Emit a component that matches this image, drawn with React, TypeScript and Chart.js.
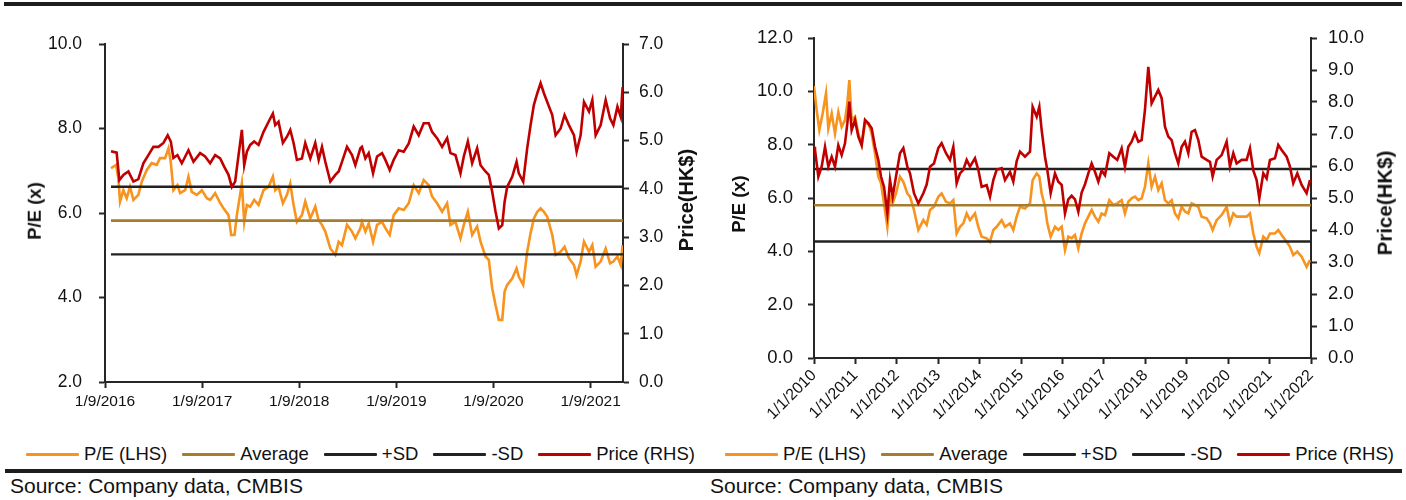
import React, { useEffect, useRef } from 'react';
import { Chart, registerables } from 'chart.js';

Chart.register(...registerables);

// ---------------- DATA ----------------
const seriesNames = ['P/E (LHS)', 'Average', '+SD', '-SD', 'Price (RHS)'];
const sourceText = 'Source: Company data, CMBIS';
const leftTitle = 'P/E (x)';
const rightTitle = 'Price(HK$)';

// Chart 1: x = months since 1 Sep 2016
const xTicks1 = [0, 12, 24, 36, 48, 60];
const xTickLabels1 = ['1/9/2016', '1/9/2017', '1/9/2018', '1/9/2019', '1/9/2020', '1/9/2021'];
const leftTicks1 = [2, 4, 6, 8, 10];
const rightTicks1 = [0, 1, 2, 3, 4, 5, 6, 7];

const peMonths1 = [
  0.74, 1.36, 1.65, 1.86, 2.27, 2.68, 3.09, 3.51, 4.12, 4.54, 5.16, 5.77, 6.39, 6.8, 7.42, 7.84, 8.12, 8.45, 8.95, 9.28,
  9.9, 10.31, 10.72, 11.34, 11.96, 12.58, 12.99, 13.61, 14.14, 14.64, 15.26, 15.59, 16.0, 16.29, 16.91, 17.2, 17.53, 17.94, 18.43, 18.97,
  19.59, 20.21, 20.74, 21.03, 21.44, 21.98, 22.48, 22.89, 23.3, 23.71, 24.33, 24.74, 25.36, 25.98, 26.39, 26.81, 27.22, 27.84, 28.46, 28.87,
  29.28, 29.9, 30.52, 30.93, 31.55,
  31.75, 32.17, 32.58, 33.12, 33.61, 34.23, 34.64, 35.18, 35.67, 36.29, 36.91, 37.53, 38.14, 38.76, 39.38, 40.0, 40.41, 41.03, 41.65, 42.27,
  42.68, 43.3, 43.92, 44.33, 44.83, 45.36, 45.98, 46.4, 47.01, 47.42, 47.84, 48.25, 48.66, 49.08, 49.37, 49.69, 50.31, 50.85, 51.13, 51.67,
  52.16, 52.58, 52.99, 53.41, 53.82, 54.23, 54.64, 55.26, 55.67, 56.29, 56.78, 57.32, 57.94, 58.27, 58.76, 59.18, 59.8, 60.21, 60.62, 61.24,
  61.86, 62.4, 62.81, 63.31, 63.72, 63.95,
];
const pe1 = [
  7.06, 7.14, 6.82, 6.27, 6.54, 6.35, 6.62, 6.31, 6.43, 6.74, 7.02, 7.18, 7.14, 7.3, 7.3, 7.53, 7.22, 6.54, 6.66, 6.47,
  6.54, 6.86, 6.5, 6.43, 6.54, 6.35, 6.31, 6.47, 6.27, 6.11, 5.95, 5.48, 5.48, 5.95, 6.7, 5.79, 6.19, 6.15, 6.31, 6.19,
  6.54, 6.62, 6.86, 6.54, 6.62, 6.23, 6.43, 6.7, 6.19, 5.79, 5.95, 6.27, 5.87, 6.15, 5.83, 5.72, 5.56, 5.16, 5.01, 5.32,
  5.24, 5.72, 5.56, 5.4, 5.64,
  5.79, 5.56, 5.75, 5.32, 5.72, 5.79, 5.64, 5.48, 5.95, 6.11, 6.07, 6.23, 6.66, 6.47, 6.78, 6.66, 6.39, 6.23, 6.03, 6.23,
  5.72, 5.79, 5.4, 5.72, 6.03, 5.48, 5.68, 5.32, 4.97, 4.89, 4.22, 3.82, 3.47, 3.47, 4.14, 4.3, 4.45, 4.69, 4.49, 4.3,
  5.08, 5.52, 5.87, 6.03, 6.11, 6.03, 5.91, 5.48, 5.01, 5.08, 5.2, 4.93, 4.77, 4.53, 4.85, 5.32, 5.08, 5.24, 4.73, 4.85,
  5.16, 4.81, 4.85, 4.97, 4.77, 5.24,
];
const priceMonths1 = [
  0.74, 1.44, 1.77, 2.27, 2.89, 3.51, 4.12, 4.74, 5.36, 5.98, 6.6, 7.22, 7.75, 8.13, 8.45, 8.95, 9.49, 10.31, 10.93, 11.75,
  12.37, 12.99, 13.61, 14.23, 14.72, 15.26, 15.67, 16.08, 16.5, 16.91, 17.2, 17.53, 17.94, 18.43, 18.97, 19.59, 20.21, 20.74, 21.03, 21.44,
  21.98, 22.48, 22.89, 23.3, 23.71, 24.33, 24.74, 25.36, 25.98, 26.4, 26.81, 27.22, 27.84, 28.46, 28.87, 29.28, 29.9, 30.52, 30.93, 31.55,
  31.75, 32.17, 32.58, 33.12, 33.61, 34.23, 34.64, 35.18, 35.67, 36.29, 36.91, 37.53, 38.14, 38.76, 39.38, 40.0, 40.41, 41.03, 41.65, 42.27,
  42.68, 43.3, 43.92, 44.33, 44.83, 45.36, 45.98, 46.4, 47.01, 47.42, 47.84, 48.25, 48.66, 49.08, 49.37, 49.69, 50.31, 50.85, 51.13, 51.67,
  52.16, 52.58, 52.99, 53.41, 53.82, 54.23, 54.64, 55.26, 55.67, 56.29, 56.78, 57.32, 57.94, 58.27, 58.76, 59.18, 59.8, 60.21, 60.62, 61.24,
  61.86, 62.4, 62.81, 63.31, 63.72, 63.95,
];
const price1 = [
  4.78, 4.75, 4.18, 4.29, 4.36, 4.15, 4.2, 4.53, 4.7, 4.87, 4.87, 4.95, 5.11, 4.98, 4.64, 4.7, 4.53, 4.8, 4.56, 4.74,
  4.67, 4.53, 4.7, 4.63, 4.46, 4.29, 4.04, 4.15, 4.7, 5.22, 4.49, 4.77, 4.91, 4.98, 4.91, 5.18, 5.39, 5.56, 5.32, 5.39,
  4.95, 5.08, 5.22, 4.95, 4.6, 4.63, 4.95, 4.63, 4.95, 4.6, 4.87, 4.56, 4.15, 4.29, 4.36, 4.56, 4.87, 4.7, 4.49, 4.84,
  4.87, 4.63, 4.74, 4.32, 4.67, 4.74, 4.6, 4.39, 4.6, 4.8, 4.77, 4.94, 5.29, 5.11, 5.36, 5.36, 5.18, 5.05, 4.87, 5.05,
  4.74, 4.7, 4.32, 4.67, 4.98, 4.53, 4.84, 4.49, 4.36, 4.29, 3.94, 3.53, 3.18, 3.25, 3.73, 4.04, 4.25, 4.56, 4.32, 4.15,
  4.84, 5.32, 5.74, 5.98, 6.19, 5.98, 5.8, 5.53, 5.11, 5.25, 5.53, 5.32, 5.11, 4.77, 5.11, 5.8, 5.6, 5.84, 5.11, 5.32,
  5.84, 5.46, 5.32, 5.7, 5.49, 6.11,
];
const avg1 = 5.82;
const plusSd1 = 6.62;
const minusSd1 = 5.02;

// Chart 2: x = decimal year
const xTicks2 = [2010, 2011, 2012, 2013, 2014, 2015, 2016, 2017, 2018, 2019, 2020, 2021, 2022];
const xTickLabels2 = ['1/1/2010', '1/1/2011', '1/1/2012', '1/1/2013', '1/1/2014', '1/1/2015', '1/1/2016', '1/1/2017', '1/1/2018', '1/1/2019', '1/1/2020', '1/1/2021', '1/1/2022'];
const leftTicks2 = [0, 2, 4, 6, 8, 10, 12];
const rightTicks2 = [0, 1, 2, 3, 4, 5, 6, 7, 8, 9, 10];

const peYears2 = [
  2010.0, 2010.064, 2010.129, 2010.209, 2010.29, 2010.346, 2010.427, 2010.507, 2010.587, 2010.668, 2010.748, 2010.805, 2010.853, 2010.909, 2010.99,
  2011.07, 2011.151, 2011.231, 2011.312, 2011.392, 2011.473, 2011.553, 2011.618, 2011.69, 2011.771, 2011.835, 2011.899, 2011.98,
  2012.076, 2012.157, 2012.253, 2012.318, 2012.414, 2012.519, 2012.64, 2012.72, 2012.801, 2012.897,
  2013.002, 2013.082, 2013.187, 2013.283, 2013.364, 2013.444, 2013.525, 2013.605, 2013.686, 2013.766, 2013.887, 2013.967,
  2014.048, 2014.169, 2014.249, 2014.33, 2014.41, 2014.531, 2014.611, 2014.732, 2014.812, 2014.893, 2014.973,
  2015.094, 2015.215, 2015.279, 2015.376, 2015.44, 2015.497, 2015.577, 2015.633, 2015.714, 2015.818, 2015.899,
  2015.98, 2016.06, 2016.14, 2016.221, 2016.301, 2016.382, 2016.462, 2016.543, 2016.623, 2016.704, 2016.784, 2016.865, 2016.945,
  2017.026, 2017.13, 2017.227, 2017.323, 2017.428, 2017.508, 2017.589, 2017.669, 2017.75, 2017.83, 2017.911, 2017.991,
  2018.072, 2018.152, 2018.233, 2018.313, 2018.394, 2018.474, 2018.555, 2018.635, 2018.716, 2018.796, 2018.877, 2018.957,
  2019.037, 2019.118, 2019.198, 2019.279, 2019.359, 2019.48, 2019.561, 2019.625, 2019.722, 2019.842, 2019.963,
  2020.043, 2020.124, 2020.204, 2020.325, 2020.446, 2020.526, 2020.607, 2020.687, 2020.752, 2020.848, 2020.929,
  2021.009, 2021.13, 2021.21, 2021.291, 2021.412, 2021.492, 2021.572, 2021.669, 2021.774, 2021.894, 2021.975,
];
const pe2 = [
  10.2, 9.3, 8.55, 9.17, 9.93, 8.61, 9.17, 8.42, 9.22, 8.67, 8.92, 9.55, 10.42, 8.92, 9.05,
  8.42, 7.99, 8.8, 8.8, 8.42, 7.67, 6.8, 6.55, 5.8, 4.92, 6.05, 5.8, 6.17,
  6.8, 6.61, 6.17, 6.05, 5.55, 4.8, 5.17, 4.99, 5.55, 5.67,
  6.05, 6.17, 5.86, 5.8, 5.92, 4.67, 4.92, 5.05, 5.42, 5.17, 5.42, 4.92,
  4.55, 4.49, 4.36, 4.8, 4.92, 5.17, 4.92, 5.05, 4.8, 5.3, 5.67,
  5.61, 5.8, 6.67, 6.92, 6.8, 6.17, 5.67, 5.05, 4.55, 4.92, 4.8,
  4.92, 4.05, 4.55, 4.49, 4.61, 4.11, 4.67, 5.05, 5.3, 5.55, 5.3, 5.11, 5.42,
  5.36, 5.92, 5.74, 5.8, 5.92, 5.42, 5.86, 5.99, 6.05, 5.92, 5.99, 6.42,
  7.3, 6.42, 6.8, 6.3, 6.55, 5.92, 5.8, 5.92, 5.42, 5.24, 5.67, 5.49,
  5.42, 5.8, 5.74, 5.67, 5.3, 5.24, 5.05, 4.8, 5.17, 5.36, 5.67,
  5.05, 5.42, 5.3, 5.3, 5.3, 5.42, 4.67, 4.17, 3.93, 4.55, 4.42,
  4.67, 4.67, 4.8, 4.61, 4.36, 4.17, 3.86, 3.99, 3.8, 3.42, 3.67,
];
const priceYears2 = [
  2010.0, 2010.024, 2010.105, 2010.185, 2010.266, 2010.346, 2010.427, 2010.507, 2010.587, 2010.668, 2010.748, 2010.805, 2010.853, 2010.909, 2010.99,
  2011.07, 2011.151, 2011.231, 2011.312, 2011.392, 2011.473, 2011.553, 2011.618, 2011.69, 2011.771, 2011.835, 2011.899, 2011.98,
  2012.076, 2012.157, 2012.253, 2012.318, 2012.414, 2012.519, 2012.64, 2012.72, 2012.801, 2012.897,
  2013.002, 2013.082, 2013.187, 2013.283, 2013.364, 2013.444, 2013.525, 2013.605, 2013.686, 2013.766, 2013.887, 2013.967,
  2014.048, 2014.169, 2014.249, 2014.33, 2014.41, 2014.531, 2014.611, 2014.732, 2014.812, 2014.893, 2014.973,
  2015.094, 2015.215, 2015.279, 2015.376, 2015.44, 2015.497, 2015.577, 2015.633, 2015.714, 2015.818, 2015.899,
  2015.98, 2016.06, 2016.14, 2016.221, 2016.301, 2016.382, 2016.462, 2016.543, 2016.623, 2016.704, 2016.784, 2016.865, 2016.945,
  2017.026, 2017.13, 2017.227, 2017.323, 2017.428, 2017.508, 2017.589, 2017.669, 2017.75, 2017.83, 2017.911, 2017.991,
  2018.072, 2018.152, 2018.233, 2018.313, 2018.394, 2018.474, 2018.555, 2018.635, 2018.716, 2018.796, 2018.877, 2018.957,
  2019.037, 2019.118, 2019.198, 2019.279, 2019.359, 2019.48, 2019.561, 2019.625, 2019.722, 2019.842, 2019.963,
  2020.043, 2020.124, 2020.204, 2020.325, 2020.446, 2020.526, 2020.607, 2020.687, 2020.752, 2020.848, 2020.929,
  2021.009, 2021.13, 2021.21, 2021.291, 2021.412, 2021.492, 2021.572, 2021.669, 2021.774, 2021.894, 2021.975,
];
const price2 = [
  6.6, 6.5, 5.67, 5.98, 6.6, 5.98, 6.29, 5.98, 6.65, 6.34, 6.71, 7.33, 8.01, 7.12, 7.44,
  6.92, 6.65, 7.44, 7.33, 7.18, 6.6, 6.19, 5.67, 5.35, 4.52, 5.56, 5.04, 5.67,
  6.4, 6.56, 5.98, 5.77, 5.15, 4.83, 5.15, 5.42, 5.98, 6.08,
  6.56, 6.71, 6.4, 6.19, 6.6, 5.46, 5.77, 5.88, 6.19, 5.98, 6.24, 5.88,
  5.35, 5.4, 5.04, 5.56, 5.88, 5.93, 5.56, 5.82, 5.51, 6.15, 6.45,
  6.29, 6.45, 7.85, 7.54, 7.85, 7.12, 6.29, 5.88, 5.15, 5.77, 5.51,
  5.41, 4.52, 4.96, 5.07, 4.96, 4.57, 5.17, 5.43, 5.77, 6.08, 5.82, 5.51, 5.86,
  5.71, 6.4, 6.29, 6.19, 6.55, 5.98, 6.6, 6.76, 7.02, 6.76, 6.81, 7.75,
  9.1, 7.96, 8.17, 8.38, 8.12, 7.23, 6.92, 6.81, 6.4, 6.08, 6.6, 6.76,
  6.4, 7.07, 7.12, 6.81, 6.29, 6.19, 6.13, 5.67, 6.19, 6.34, 6.76,
  5.98, 6.4, 6.08, 6.19, 6.19, 6.55, 5.86, 5.56, 4.99, 5.77, 5.61,
  6.19, 6.24, 6.66, 6.5, 6.29, 5.98, 5.46, 5.77, 5.41, 5.15, 5.56,
];
const avg2 = 5.73;
const plusSd2 = 7.09;
const minusSd2 = 4.37;

// ---------------- STYLE ----------------
const ORANGE = '#F7931E';
const RED = '#C00000';
const GOLD = '#A67C2E';
const BLACK = '#222222';
const AXIS = '#262626';
const TEXT = '#111111';
const FONT = "'Liberation Sans', Arial, sans-serif";
const seriesColors = [ORANGE, GOLD, BLACK, BLACK, RED];

type Spec = {
  left: number; w: number; h: number;
  pad: { left: number; right: number; top: number; bottom: number };
  yW: number; y1W: number; xH: number;
  xMin: number; xMax: number; xTicks: number[]; xLabels: string[];
  yMin: number; yMax: number; yTicks: number[];
  y1Min: number; y1Max: number; y1Ticks: number[];
  peX: number[]; pe: number[]; prX: number[]; pr: number[];
  avg: number; plus: number; minus: number; lineStart: number; lineEnd: number;
  yFont: number; xFont: number; rot: number; yPad: number; y1Pad: number; xPad: number;
};

const toXY = (xs: number[], ys: number[]) => xs.map((x, i) => ({ x, y: ys[i] }));

function buildConfig(s: Spec): any {
  const flat = (v: number) => [{ x: s.lineStart, y: v }, { x: s.lineEnd, y: v }];
  const common = { pointRadius: 0, pointHoverRadius: 0, tension: 0, fill: false };
  const gridOpts = { display: true, drawOnChartArea: false, drawTicks: true, tickLength: 6, tickColor: AXIS, tickWidth: 2 };
  const borderOpts = { display: true, color: AXIS, width: 2 };
  return {
    type: 'line',
    data: {
      datasets: [
        { ...common, label: seriesNames[4], data: toXY(s.prX, s.pr), yAxisID: 'y1', borderColor: seriesColors[4], borderWidth: 2.6, order: 1 },
        { ...common, label: seriesNames[3], data: flat(s.minus), yAxisID: 'y', borderColor: seriesColors[3], borderWidth: 2.4, order: 2 },
        { ...common, label: seriesNames[2], data: flat(s.plus), yAxisID: 'y', borderColor: seriesColors[2], borderWidth: 2.4, order: 3 },
        { ...common, label: seriesNames[1], data: flat(s.avg), yAxisID: 'y', borderColor: seriesColors[1], borderWidth: 2.6, order: 4 },
        { ...common, label: seriesNames[0], data: toXY(s.peX, s.pe), yAxisID: 'y', borderColor: seriesColors[0], borderWidth: 2.6, order: 5 },
      ],
    },
    options: {
      responsive: false,
      animation: false,
      events: [],
      layout: { padding: s.pad },
      plugins: { legend: { display: false }, tooltip: { enabled: false }, title: { display: false } },
      scales: {
        x: {
          type: 'linear', min: s.xMin, max: s.xMax,
          afterBuildTicks: (sc: any) => { sc.ticks = s.xTicks.map((v) => ({ value: v })); },
          afterFit: (sc: any) => { sc.height = s.xH; },
          ticks: {
            autoSkip: false, maxRotation: s.rot, minRotation: s.rot, padding: s.xPad,
            color: TEXT, font: { family: FONT, size: s.xFont },
            callback: (_v: any, i: number) => s.xLabels[i],
          },
          grid: gridOpts, border: borderOpts,
        },
        y: {
          type: 'linear', position: 'left', min: s.yMin, max: s.yMax,
          afterBuildTicks: (sc: any) => { sc.ticks = s.yTicks.map((v) => ({ value: v })); },
          afterFit: (sc: any) => { sc.width = s.yW; },
          ticks: { padding: s.yPad, color: TEXT, font: { family: FONT, size: s.yFont }, callback: (v: any) => Number(v).toFixed(1) },
          grid: gridOpts, border: borderOpts,
        },
        y1: {
          type: 'linear', position: 'right', min: s.y1Min, max: s.y1Max,
          afterBuildTicks: (sc: any) => { sc.ticks = s.y1Ticks.map((v) => ({ value: v })); },
          afterFit: (sc: any) => { sc.width = s.y1W; },
          ticks: { padding: s.y1Pad, color: TEXT, font: { family: FONT, size: s.yFont }, callback: (v: any) => Number(v).toFixed(1) },
          grid: gridOpts, border: borderOpts,
        },
      },
    },
  };
}

const spec1: Spec = {
  left: 0, w: 700, h: 430,
  pad: { left: 45, right: 17, top: 44, bottom: 8 },
  yW: 60, y1W: 60, xH: 40,
  xMin: 0, xMax: 64, xTicks: xTicks1, xLabels: xTickLabels1,
  yMin: 2, yMax: 10, yTicks: leftTicks1,
  y1Min: 0, y1Max: 7, y1Ticks: rightTicks1,
  peX: peMonths1, pe: pe1, prX: priceMonths1, pr: price1,
  avg: avg1, plus: plusSd1, minus: minusSd1, lineStart: peMonths1[0], lineEnd: 64,
  yFont: 17.5, xFont: 15.5, rot: 0, yPad: 17, y1Pad: 10, xPad: 4,
};

const spec2: Spec = {
  left: 700, w: 706, h: 440,
  pad: { left: 54, right: 35, top: 38, bottom: 12 },
  yW: 60, y1W: 60, xH: 70,
  xMin: 2010, xMax: 2022, xTicks: xTicks2, xLabels: xTickLabels2,
  yMin: 0, yMax: 12, yTicks: leftTicks2,
  y1Min: 0, y1Max: 10, y1Ticks: rightTicks2,
  peX: peYears2, pe: pe2, prX: priceYears2, pr: price2,
  avg: avg2, plus: plusSd2, minus: minusSd2, lineStart: 2010, lineEnd: 2022,
  yFont: 18.5, xFont: 16, rot: 45, yPad: 15, y1Pad: 11, xPad: 2,
};

function PEChart({ spec }: { spec: Spec }) {
  const ref = useRef<HTMLCanvasElement | null>(null);
  useEffect(() => {
    if (!ref.current) return;
    const chart = new Chart(ref.current, buildConfig(spec));
    return () => chart.destroy();
  }, [spec]);
  return (
    <canvas
      ref={ref}
      width={spec.w}
      height={spec.h}
      style={{ position: 'absolute', left: spec.left, top: 0, width: spec.w, height: spec.h }}
    />
  );
}

function VTitle({ text, cx, cy, size }: { text: string; cx: number; cy: number; size: number }) {
  return (
    <div
      style={{
        position: 'absolute', left: cx, top: cy, transform: 'translate(-50%, -50%) rotate(-90deg)',
        whiteSpace: 'nowrap', fontFamily: FONT, fontWeight: 'bold', fontSize: size, color: TEXT, lineHeight: 1,
      }}
    >
      {text}
    </div>
  );
}

function Legend({ left, top }: { left: number; top: number }) {
  return (
    <div style={{ position: 'absolute', left, top, display: 'flex', alignItems: 'center', height: 24 }}>
      {seriesNames.map((n, i) => (
        <div key={n} style={{ display: 'flex', alignItems: 'center', marginRight: i < seriesNames.length - 1 ? 15 : 0 }}>
          <div style={{ width: 53, height: 3, background: seriesColors[i], borderRadius: 1 }} />
          <span style={{ marginLeft: 5, fontFamily: FONT, fontSize: 18.5, color: TEXT, whiteSpace: 'nowrap', lineHeight: '24px' }}>{n}</span>
        </div>
      ))}
    </div>
  );
}

export default function App() {
  return (
    <div style={{ position: 'absolute', left: 0, top: 0, width: 1406, height: 500, background: '#ffffff', overflow: 'hidden' }}>
      <div style={{ position: 'absolute', left: 4, top: 2, width: 1398, height: 4, background: '#1d1d1b' }} />
      <PEChart spec={spec1} />
      <PEChart spec={spec2} />
      <VTitle text={leftTitle} cx={35} cy={211} size={18.5} />
      <VTitle text={rightTitle} cx={686} cy={200} size={20} />
      <VTitle text={leftTitle} cx={739} cy={204} size={18.5} />
      <VTitle text={rightTitle} cx={1385} cy={203} size={20.5} />
      <Legend left={26} top={442} />
      <Legend left={725} top={442} />
      <div style={{ position: 'absolute', left: 5, top: 469, width: 1397, height: 4, background: '#1d1d1b' }} />
      <div style={{ position: 'absolute', left: 10, top: 475, fontFamily: FONT, fontSize: 21, lineHeight: '21px', color: TEXT, whiteSpace: 'nowrap' }}>{sourceText}</div>
      <div style={{ position: 'absolute', left: 710, top: 475, fontFamily: FONT, fontSize: 21, lineHeight: '21px', color: TEXT, whiteSpace: 'nowrap' }}>{sourceText}</div>
    </div>
  );
}
